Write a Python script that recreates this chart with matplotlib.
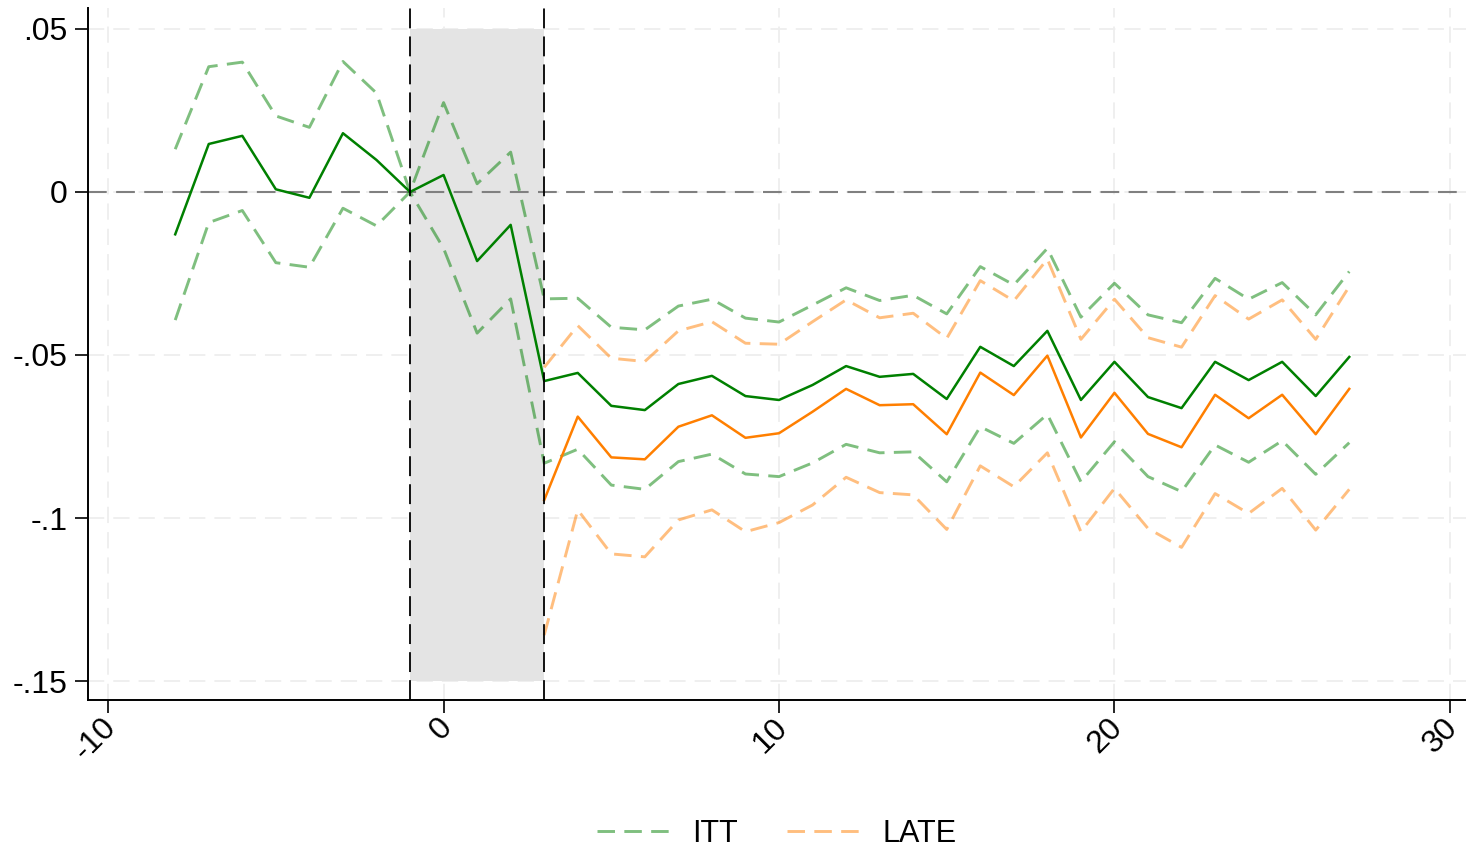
import matplotlib.pyplot as plt
import matplotlib.transforms as mtransforms
import numpy as np

plt.rcParams['font.family'] = ['Liberation Sans', 'DejaVu Sans']
plt.rcParams['axes.unicode_minus'] = False

# event time, relative to treatment
periods = np.arange(-8, 28)
late_periods = np.arange(3, 28)

itt = [-0.0130, 0.0147, 0.0172, 0.0008, -0.0018, 0.0180, 0.0098, 0.0, 0.0052, -0.0212,
       -0.0101, -0.0580, -0.0555, -0.0656, -0.0669, -0.0589, -0.0564, -0.0626, -0.0638, -0.0592,
       -0.0534, -0.0567, -0.0558, -0.0635, -0.0475, -0.0534, -0.0426, -0.0638, -0.0521, -0.0629,
       -0.0663, -0.0521, -0.0577, -0.0521, -0.0626, -0.0506]
itt_lo = [-0.0393, -0.0094, -0.0057, -0.0217, -0.0231, -0.0050, -0.0104, 0.0, -0.0173, -0.0433,
          -0.0328, -0.0832, -0.0789, -0.0899, -0.0912, -0.0827, -0.0804, -0.0865, -0.0873, -0.0831,
          -0.0774, -0.0800, -0.0797, -0.0889, -0.0720, -0.0771, -0.0682, -0.0889, -0.0766, -0.0873,
          -0.0919, -0.0776, -0.0829, -0.0763, -0.0866, -0.0769]
itt_hi = [0.0131, 0.0384, 0.0398, 0.0233, 0.0198, 0.0400, 0.0303, 0.0, 0.0274, 0.0025,
          0.0122, -0.0328, -0.0326, -0.0415, -0.0423, -0.0350, -0.0329, -0.0387, -0.0399, -0.0347,
          -0.0294, -0.0333, -0.0317, -0.0374, -0.0229, -0.0285, -0.0173, -0.0384, -0.0280, -0.0377,
          -0.0401, -0.0265, -0.0329, -0.0278, -0.0377, -0.0244]

late = [-0.0945, -0.0689, -0.0814, -0.0820, -0.0720, -0.0685, -0.0754, -0.0740, -0.0674, -0.0604,
        -0.0654, -0.0651, -0.0743, -0.0554, -0.0623, -0.0502, -0.0753, -0.0616, -0.0742, -0.0783,
        -0.0622, -0.0694, -0.0622, -0.0743, -0.0604]
late_lo = [-0.1359, -0.0975, -0.1110, -0.1119, -0.1006, -0.0975, -0.1042, -0.1014, -0.0960, -0.0875,
           -0.0922, -0.0929, -0.1035, -0.0840, -0.0904, -0.0800, -0.1042, -0.0909, -0.1032, -0.1090,
           -0.0925, -0.0986, -0.0909, -0.1037, -0.0912]
late_hi = [-0.0538, -0.0410, -0.0510, -0.0520, -0.0426, -0.0398, -0.0464, -0.0467, -0.0398, -0.0331,
           -0.0386, -0.0372, -0.0449, -0.0272, -0.0334, -0.0206, -0.0452, -0.0329, -0.0447, -0.0476,
           -0.0318, -0.0390, -0.0331, -0.0452, -0.0290]

window = (-1, 3)
yticks = [0.05, 0, -0.05, -0.1, -0.15]
ytick_labels = ['.05', '0', '-.05', '-.1', '-.15']
xticks = [-10, 0, 10, 20, 30]
xtick_labels = ['-10', '0', '10', '20', '30']

green = '#008000'
orange = '#ff7f00'
ci_dash = (6, 3.2)

fig = plt.figure(figsize=(14.66, 8.51), dpi=100)
ax = fig.add_axes([88 / 1466, 1 - 700 / 851, 1 - 88 / 1466, (700 - 8) / 851])

# shaded implementation window
ax.fill_between(window, -0.15, 0.05, color='#e4e4e4', lw=0, zorder=1)
for xv in window:
    ax.axvline(xv, color='black', lw=1.3, dashes=(11, 4.5), zorder=4)
ax.axhline(0, color='#808080', lw=1.5, dashes=(9, 4.5), zorder=2)

ax.plot(periods, itt_hi, color=green, alpha=0.5, lw=2.1, dashes=ci_dash, zorder=3)
ax.plot(periods, itt_lo, color=green, alpha=0.5, lw=2.1, dashes=ci_dash, zorder=3)
ax.plot(late_periods, late_hi, color=orange, alpha=0.5, lw=2.1, dashes=ci_dash, zorder=3)
ax.plot(late_periods, late_lo, color=orange, alpha=0.5, lw=2.1, dashes=ci_dash, zorder=3)
ax.plot(periods, itt, color=green, lw=1.8, zorder=3)
ax.plot(late_periods, late, color=orange, lw=1.8, zorder=3)

ax.set_xlim(-10.6, 30.48)
ax.set_ylim(-0.1558, 0.0564)
ax.set_xticks(xticks)
ax.set_xticklabels(xtick_labels, rotation=45, ha='right', va='top', rotation_mode='anchor')
ax.set_yticks(yticks)
ax.set_yticklabels(ytick_labels)
ax.tick_params(labelsize=23, length=9.5, width=1.2, direction='out', pad=5)
ax.tick_params(axis='x', pad=1)

# nudge the slanted x labels so they end right under each tick
shift = mtransforms.ScaledTranslation(-0.07, 0.02, fig.dpi_scale_trans)
for lab in ax.get_xticklabels():
    lab.set_transform(lab.get_transform() + shift)

ax.grid(True, color='#eeeeee', lw=1.3, dashes=(9, 5), zorder=0)
ax.set_axisbelow(True)
for side in ['top', 'right']:
    ax.spines[side].set_visible(False)
for side in ['left', 'bottom']:
    ax.spines[side].set_linewidth(1.4)

itt_key, = ax.plot([], [], color=green, alpha=0.5, lw=2.1, dashes=ci_dash)
late_key, = ax.plot([], [], color=orange, alpha=0.5, lw=2.1, dashes=ci_dash)
fig.legend([itt_key, late_key], ['ITT', 'LATE'], loc='center', ncol=2,
           bbox_to_anchor=(0.53, 0.02), frameon=False, fontsize=22,
           handlelength=2.4, columnspacing=1.6, handletextpad=0.72)

fig.savefig('out.png', dpi=100)
